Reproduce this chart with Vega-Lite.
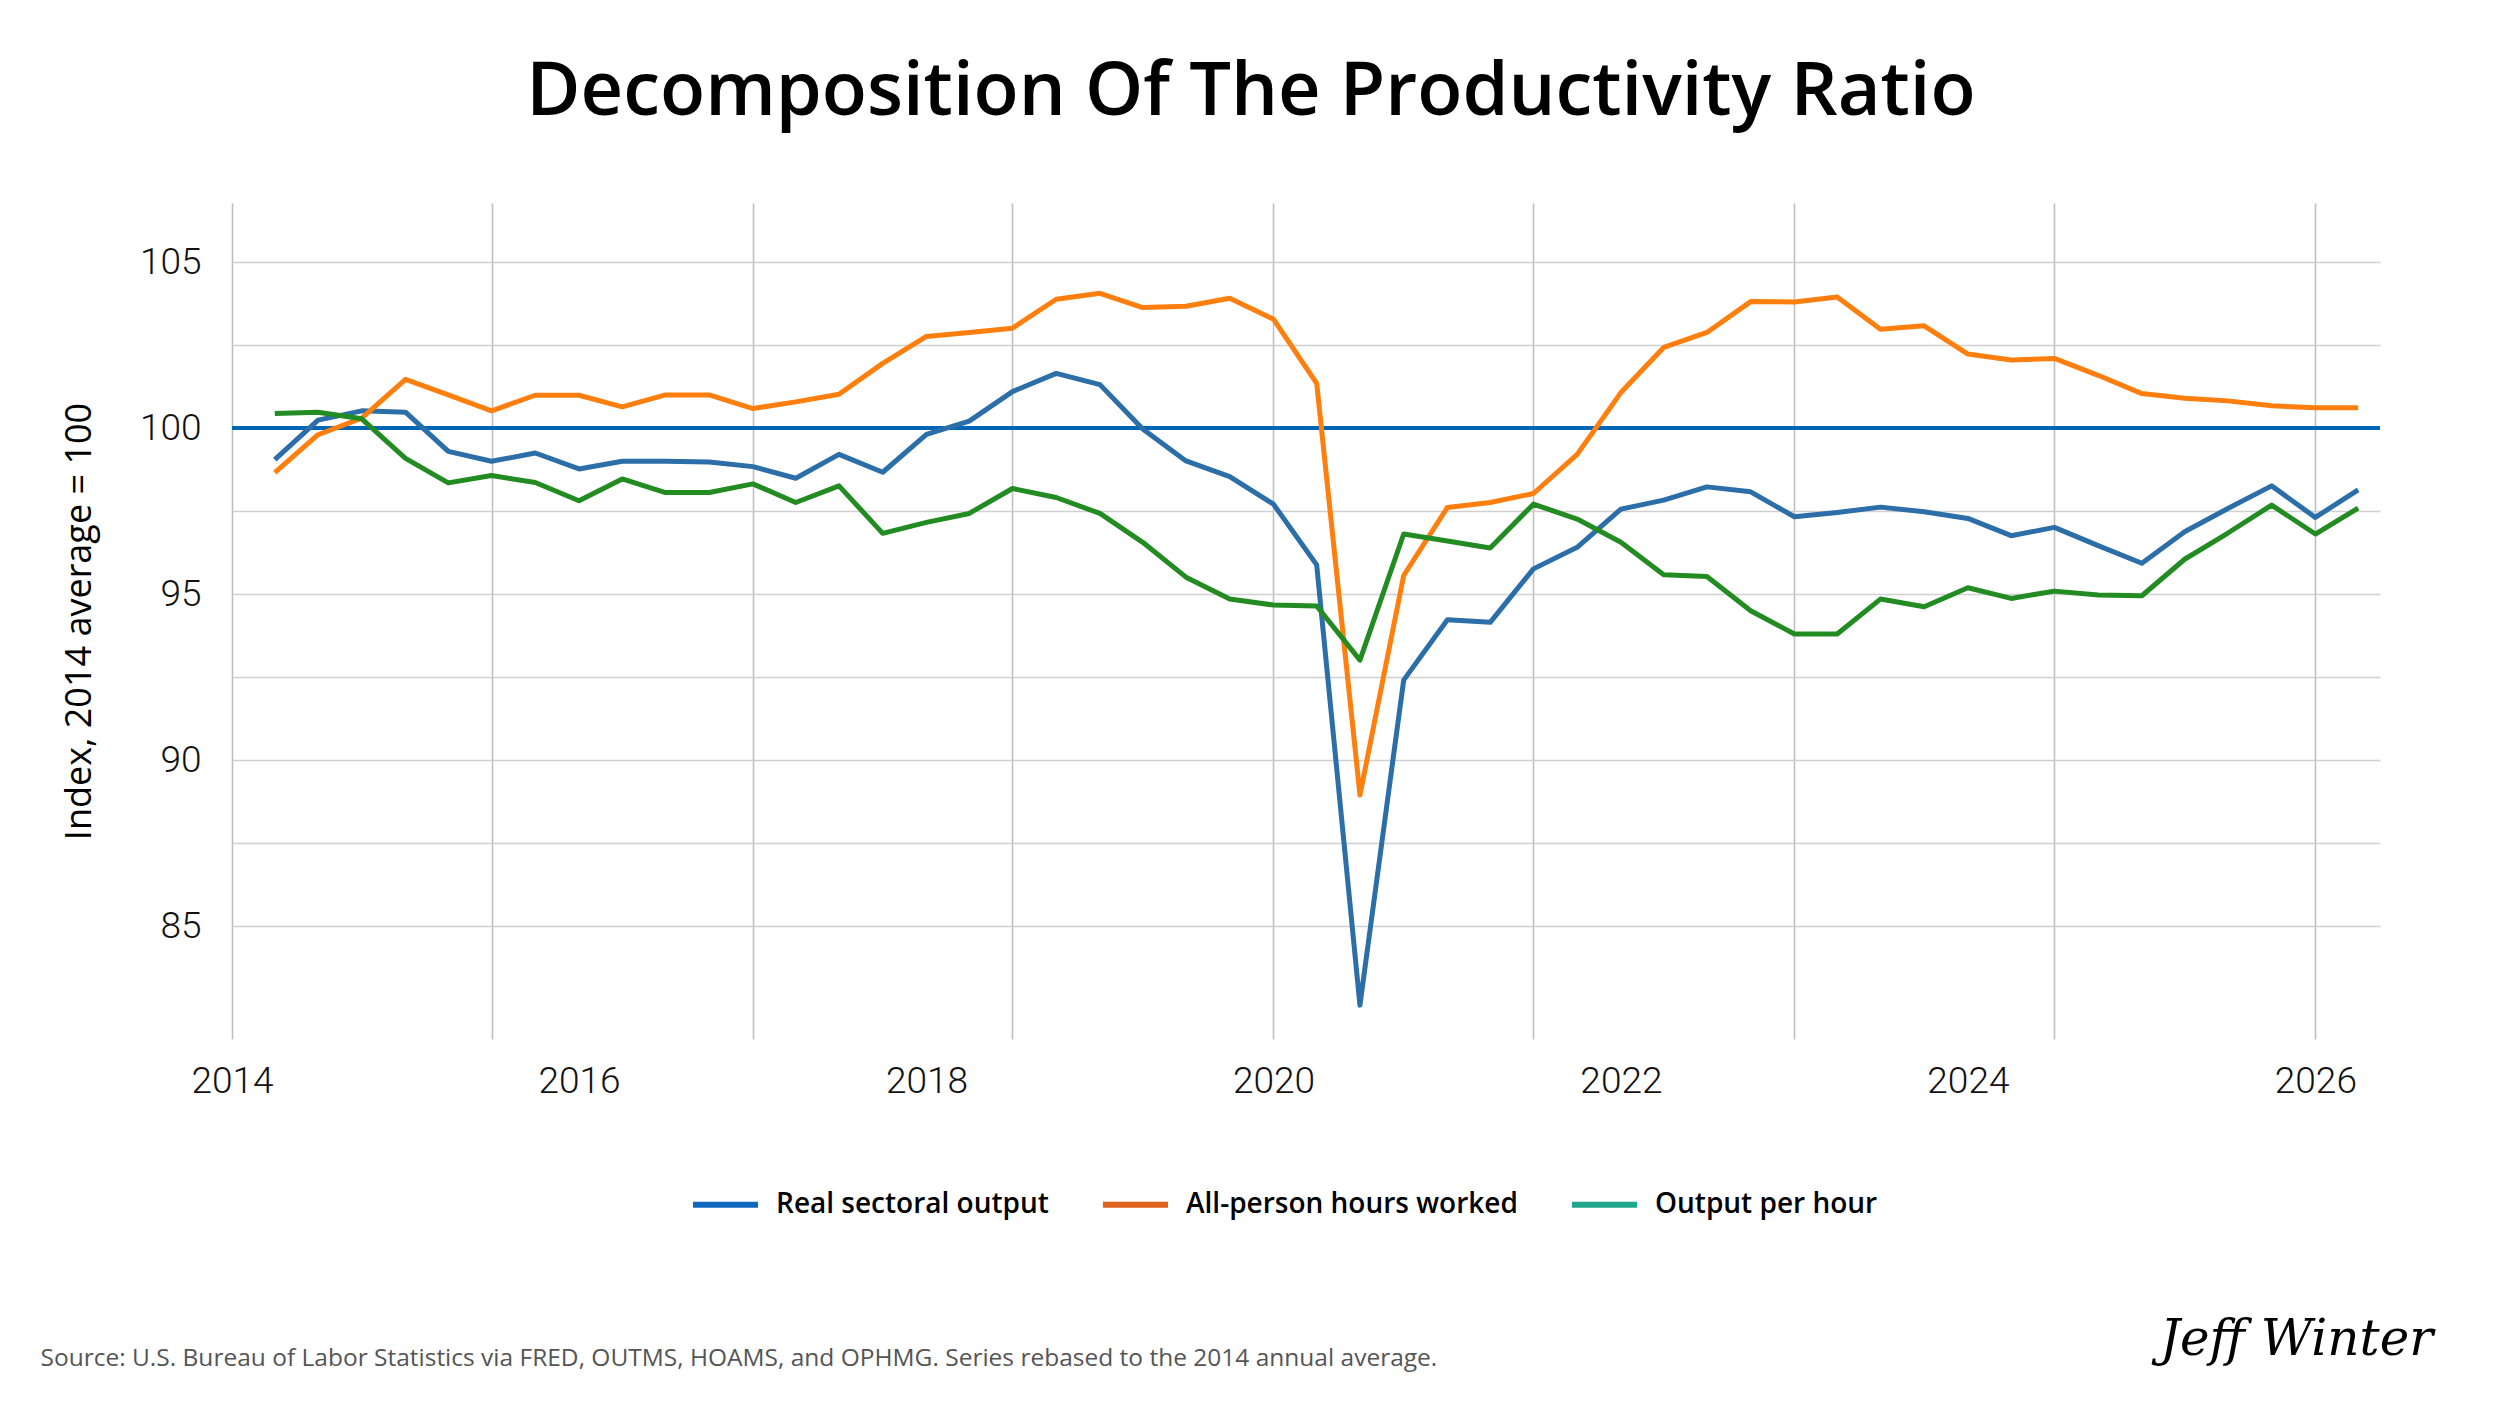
{
  "$schema": "https://vega.github.io/schema/vega-lite/v6.json",
  "width": 2148,
  "height": 836,
  "autosize": {"type": "none"},
  "padding": {"left": 232, "top": 203, "right": 120, "bottom": 367},
  "background": "white",
  "config": {"view": {"stroke": null}, "font": "Open Sans"},
  "title": {
    "text": "Decomposition Of The Productivity Ratio",
    "font": "Open Sans",
    "fontSize": 74,
    "fontWeight": 600,
    "color": "#000000",
    "anchor": "middle",
    "frame": "group",
    "baseline": "alphabetic",
    "offset": 14,
    "dx": -55
  },
  "data": {
    "values": [
      {"date": "2014-04-01", "Real sectoral output": 99.05, "All-person hours worked": 98.66, "Output per hour": 100.44},
      {"date": "2014-07-01", "Real sectoral output": 100.24, "All-person hours worked": 99.80, "Output per hour": 100.48},
      {"date": "2014-10-01", "Real sectoral output": 100.52, "All-person hours worked": 100.30, "Output per hour": 100.28},
      {"date": "2015-01-01", "Real sectoral output": 100.48, "All-person hours worked": 101.47, "Output per hour": 99.09},
      {"date": "2015-04-01", "Real sectoral output": 99.30, "All-person hours worked": 101.00, "Output per hour": 98.35},
      {"date": "2015-07-01", "Real sectoral output": 99.00, "All-person hours worked": 100.52, "Output per hour": 98.57},
      {"date": "2015-10-01", "Real sectoral output": 99.25, "All-person hours worked": 100.99, "Output per hour": 98.36},
      {"date": "2016-01-01", "Real sectoral output": 98.77, "All-person hours worked": 100.99, "Output per hour": 97.81},
      {"date": "2016-04-01", "Real sectoral output": 99.00, "All-person hours worked": 100.64, "Output per hour": 98.47},
      {"date": "2016-07-01", "Real sectoral output": 99.00, "All-person hours worked": 101.00, "Output per hour": 98.06},
      {"date": "2016-10-01", "Real sectoral output": 98.98, "All-person hours worked": 101.00, "Output per hour": 98.06},
      {"date": "2017-01-01", "Real sectoral output": 98.84, "All-person hours worked": 100.59, "Output per hour": 98.32},
      {"date": "2017-04-01", "Real sectoral output": 98.49, "All-person hours worked": 100.79, "Output per hour": 97.76},
      {"date": "2017-07-01", "Real sectoral output": 99.21, "All-person hours worked": 101.02, "Output per hour": 98.26},
      {"date": "2017-10-01", "Real sectoral output": 98.67, "All-person hours worked": 101.95, "Output per hour": 96.83},
      {"date": "2018-01-01", "Real sectoral output": 99.81, "All-person hours worked": 102.76, "Output per hour": 97.16},
      {"date": "2018-04-01", "Real sectoral output": 100.21, "All-person hours worked": 102.88, "Output per hour": 97.43},
      {"date": "2018-07-01", "Real sectoral output": 101.10, "All-person hours worked": 103.01, "Output per hour": 98.18},
      {"date": "2018-10-01", "Real sectoral output": 101.65, "All-person hours worked": 103.88, "Output per hour": 97.91},
      {"date": "2019-01-01", "Real sectoral output": 101.31, "All-person hours worked": 104.06, "Output per hour": 97.43},
      {"date": "2019-04-01", "Real sectoral output": 99.97, "All-person hours worked": 103.63, "Output per hour": 96.56},
      {"date": "2019-07-01", "Real sectoral output": 99.01, "All-person hours worked": 103.67, "Output per hour": 95.51},
      {"date": "2019-10-01", "Real sectoral output": 98.54, "All-person hours worked": 103.91, "Output per hour": 94.85},
      {"date": "2020-01-01", "Real sectoral output": 97.71, "All-person hours worked": 103.28, "Output per hour": 94.67},
      {"date": "2020-04-01", "Real sectoral output": 95.88, "All-person hours worked": 101.35, "Output per hour": 94.64},
      {"date": "2020-07-01", "Real sectoral output": 82.62, "All-person hours worked": 88.95, "Output per hour": 93.01},
      {"date": "2020-10-01", "Real sectoral output": 92.41, "All-person hours worked": 95.56, "Output per hour": 96.81},
      {"date": "2021-01-01", "Real sectoral output": 94.23, "All-person hours worked": 97.61, "Output per hour": 96.60},
      {"date": "2021-04-01", "Real sectoral output": 94.15, "All-person hours worked": 97.76, "Output per hour": 96.39},
      {"date": "2021-07-01", "Real sectoral output": 95.76, "All-person hours worked": 98.03, "Output per hour": 97.71},
      {"date": "2021-10-01", "Real sectoral output": 96.41, "All-person hours worked": 99.21, "Output per hour": 97.26},
      {"date": "2022-01-01", "Real sectoral output": 97.56, "All-person hours worked": 101.07, "Output per hour": 96.56},
      {"date": "2022-04-01", "Real sectoral output": 97.83, "All-person hours worked": 102.43, "Output per hour": 95.58},
      {"date": "2022-07-01", "Real sectoral output": 98.23, "All-person hours worked": 102.88, "Output per hour": 95.53},
      {"date": "2022-10-01", "Real sectoral output": 98.08, "All-person hours worked": 103.81, "Output per hour": 94.50},
      {"date": "2023-01-01", "Real sectoral output": 97.33, "All-person hours worked": 103.80, "Output per hour": 93.80},
      {"date": "2023-04-01", "Real sectoral output": 97.46, "All-person hours worked": 103.95, "Output per hour": 93.80},
      {"date": "2023-07-01", "Real sectoral output": 97.62, "All-person hours worked": 102.98, "Output per hour": 94.85},
      {"date": "2023-10-01", "Real sectoral output": 97.48, "All-person hours worked": 103.08, "Output per hour": 94.62},
      {"date": "2024-01-01", "Real sectoral output": 97.28, "All-person hours worked": 102.23, "Output per hour": 95.19},
      {"date": "2024-04-01", "Real sectoral output": 96.76, "All-person hours worked": 102.05, "Output per hour": 94.87},
      {"date": "2024-07-01", "Real sectoral output": 97.01, "All-person hours worked": 102.10, "Output per hour": 95.09},
      {"date": "2024-10-01", "Real sectoral output": 96.46, "All-person hours worked": 101.59, "Output per hour": 94.97},
      {"date": "2025-01-01", "Real sectoral output": 95.93, "All-person hours worked": 101.04, "Output per hour": 94.95},
      {"date": "2025-04-01", "Real sectoral output": 96.88, "All-person hours worked": 100.90, "Output per hour": 96.05},
      {"date": "2025-07-01", "Real sectoral output": 97.58, "All-person hours worked": 100.82, "Output per hour": 96.84},
      {"date": "2025-10-01", "Real sectoral output": 98.26, "All-person hours worked": 100.67, "Output per hour": 97.68},
      {"date": "2026-01-01", "Real sectoral output": 97.31, "All-person hours worked": 100.61, "Output per hour": 96.81},
      {"date": "2026-04-01", "Real sectoral output": 98.14, "All-person hours worked": 100.61, "Output per hour": 97.59}
    ]
  },
  "resolve": {"axis": {"x": "independent"}, "scale": {"color": "independent"}},
  "layer": [
    {
      "mark": {"type": "rule", "color": "#0066b5", "strokeWidth": 3.5},
      "encoding": {
        "x": {
          "datum": {"year": 2014, "month": 1, "date": 1, "utc": true},
          "type": "temporal",
          "axis": {
            "orient": "bottom",
            "labels": false, "ticks": false, "domain": false, "grid": false,
            "title": "Jeff Winter",
            "titleFont": "DejaVu Serif",
            "titleFontStyle": "italic",
            "titleFontWeight": "normal",
            "titleFontSize": 50,
            "titleColor": "#000000",
            "titleAnchor": "start",
            "titleAlign": "center",
            "titleBaseline": "middle",
            "titleX": 2064,
            "titleY": 300
          }
        },
        "x2": {"datum": {"year": 2026, "month": 5, "date": 17, "utc": true}},
        "y": {
          "datum": 100,
          "type": "quantitative",
          "scale": {"domain": [81.6, 106.78], "nice": false, "zero": false},
          "axis": {"title": "Index, 2014 average = 100"}
        }
      }
    },
    {
      "transform": [
        {"fold": ["Real sectoral output", "All-person hours worked", "Output per hour"], "as": ["series", "value"]}
      ],
      "mark": {"type": "line", "strokeWidth": 5, "strokeJoin": "round"},
      "encoding": {
        "x": {
          "field": "date",
          "type": "temporal",
          "scale": {
            "type": "utc",
            "domain": [
              {"year": 2014, "month": 1, "date": 1, "utc": true},
              {"year": 2026, "month": 5, "date": 17, "utc": true}
            ]
          },
          "axis": {
            "orient": "bottom",
            "values": [
              {"year": 2014, "month": 1, "date": 1, "utc": true},
              {"year": 2015, "month": 7, "date": 1, "utc": true},
              {"year": 2016, "month": 1, "date": 1, "utc": true},
              {"year": 2017, "month": 1, "date": 1, "utc": true},
              {"year": 2018, "month": 1, "date": 1, "utc": true},
              {"year": 2018, "month": 7, "date": 1, "utc": true},
              {"year": 2020, "month": 1, "date": 1, "utc": true},
              {"year": 2021, "month": 7, "date": 1, "utc": true},
              {"year": 2022, "month": 1, "date": 1, "utc": true},
              {"year": 2023, "month": 1, "date": 1, "utc": true},
              {"year": 2024, "month": 1, "date": 1, "utc": true},
              {"year": 2024, "month": 7, "date": 1, "utc": true},
              {"year": 2026, "month": 1, "date": 1, "utc": true}
            ],
            "labelExpr": "utcmonth(datum.value) === 0 && utcyear(datum.value) % 2 === 0 ? utcFormat(datum.value, '%Y') : ''",
            "labelOverlap": false,
            "labelFlush": false,
            "labelBound": false,
            "labelFont": "Roboto",
            "labelFontWeight": 300,
            "labelFontSize": 37,
            "labelColor": "#111111",
            "labelPadding": 24,
            "grid": true,
            "gridColor": "#bdbdbd",
            "gridWidth": 1.5,
            "gridOpacity": {
              "condition": {"test": "((utcyear(datum.value) - 2014) * 12 + utcmonth(datum.value)) % 18 === 0", "value": 1},
              "value": 0
            },
            "domain": false,
            "ticks": false,
            "title": "Source: U.S. Bureau of Labor Statistics via FRED, OUTMS, HOAMS, and OPHMG. Series rebased to the 2014 annual average.",
            "titleFont": "Open Sans",
            "titleFontWeight": "normal",
            "titleFontSize": 24.5,
            "titleColor": "#555555",
            "titleAnchor": "start",
            "titleAlign": "left",
            "titleBaseline": "middle",
            "titleX": -192,
            "titleY": 319
          }
        },
        "y": {
          "field": "value",
          "type": "quantitative",
          "scale": {"domain": [81.6, 106.78], "nice": false, "zero": false},
          "axis": {
            "values": [85, 87.5, 90, 92.5, 95, 97.5, 100, 102.5, 105],
            "labelExpr": "datum.value % 5 === 0 ? datum.label : ''",
            "labelFont": "Roboto",
            "labelFontWeight": 300,
            "labelFontSize": 37,
            "labelColor": "#111111",
            "labelPadding": 31,
            "labelOverlap": false,
            "grid": true,
            "gridColor": "#d0d0d0",
            "gridWidth": 1.5,
            "domain": false,
            "ticks": false,
            "title": "Index, 2014 average = 100",
            "titleFont": "Open Sans",
            "titleFontSize": 36,
            "titleFontWeight": "normal",
            "titleColor": "#000000",
            "titlePadding": 41
          }
        },
        "color": {
          "field": "series",
          "type": "nominal",
          "scale": {
            "domain": ["Real sectoral output", "All-person hours worked", "Output per hour"],
            "range": ["#2b6ea8", "#ff7f0e", "#228b22"]
          },
          "legend": null
        }
      }
    },
    {
      "transform": [
        {"fold": ["Real sectoral output", "All-person hours worked", "Output per hour"], "as": ["series", "value"]},
        {"filter": "false"}
      ],
      "mark": {"type": "line", "strokeWidth": 6, "strokeCap": "round"},
      "encoding": {
        "color": {
          "field": "series",
          "type": "nominal",
          "scale": {
            "domain": ["Real sectoral output", "All-person hours worked", "Output per hour"],
            "range": ["#0f68bd", "#de621b", "#1fa78c"]
          },
          "legend": {
            "orient": "none",
            "legendX": 458,
            "legendY": 966,
            "direction": "horizontal",
            "title": null,
            "labelFont": "Open Sans",
            "labelFontSize": 28,
            "labelFontWeight": 600,
            "labelColor": "#000000",
            "labelLimit": 0,
            "labelOffset": 15,
            "columnPadding": 42,
            "symbolType": "stroke",
            "symbolSize": 4225,
            "symbolStrokeWidth": 6
          }
        }
      }
    }
  ]
}
